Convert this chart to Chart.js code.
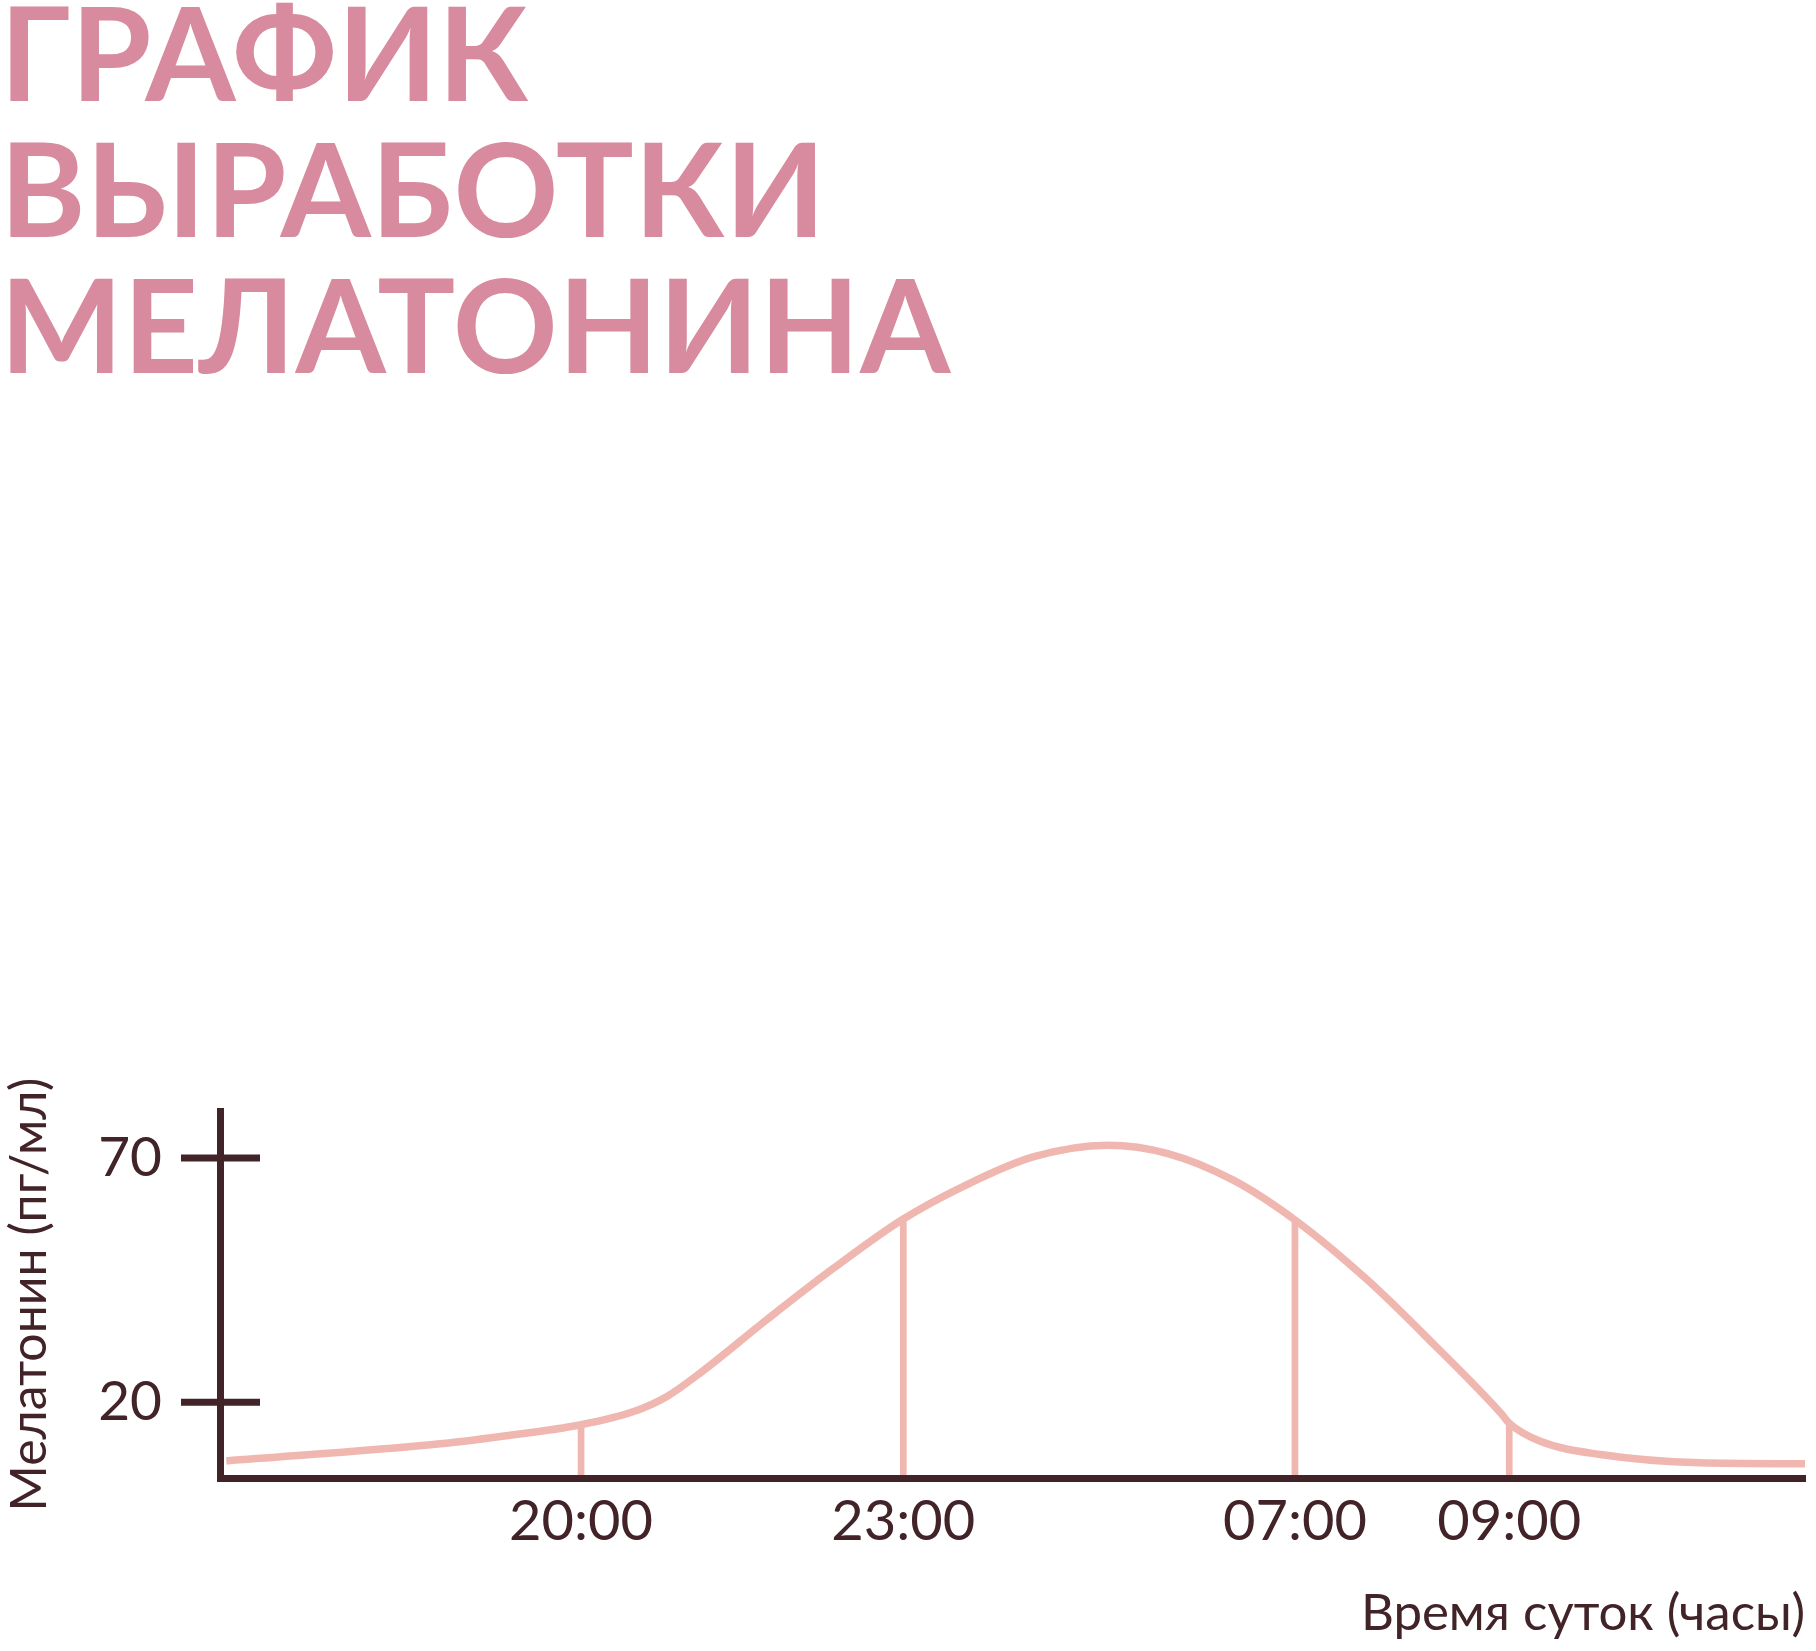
<!DOCTYPE html>
<html lang="ru">
<head>
  <meta charset="UTF-8">
  <title>График выработки мелатонина</title>
  <style>
    html, body {
      margin: 0;
      padding: 0;
      background: #fff;
    }
    body {
      width: 1816px;
      height: 1651px;
      position: relative;
      overflow: hidden;
      font-family: Lato, sans-serif;
    }
    h1 {
      position: absolute;
      left: 0;
      top: -17px;
      margin: 0;
      font-family: Lato, sans-serif;
      font-weight: 700;
      font-size: 130px;
      line-height: 136px;
      letter-spacing: 0.5px;
      color: #D88A9E;
    }
    .chart-box {
      position: absolute;
      left: 0;
      top: 1050px;
      width: 1816px;
      height: 601px;
    }
  </style>
  <script src="https://cdn.jsdelivr.net/npm/chart.js"></script>
</head>
<body>
  <h1>ГРАФИК<br>ВЫРАБОТКИ<br>МЕЛАТОНИНА</h1>

  <div class="chart-box"><canvas id="chart"></canvas></div>

  <script>
    // x = position along the time axis (0 = left end, 100 = right end), not to scale in hours
    const curveX = [0.4, 13.9, 17.7, 22.78, 26.1, 28.2, 30.3, 34.5, 38.7, 43.11, 47.1, 51.3, 56.0, 59.8, 63.9, 67.82, 72.4, 76.5, 80.8, 81.34, 83.3, 87.1, 93.4, 100];
    const curveY = [8.0, 11.5, 13.0, 15.4, 18.1, 21.2, 26.0, 36.9, 47.4, 57.5, 64.5, 70.2, 72.6, 70.9, 65.5, 57.3, 45.0, 32.1, 17.8, 15.7, 12.0, 9.3, 7.6, 7.4];

    const timeTicks = [22.78, 43.11, 67.82, 81.34];
    const timeLabels = ['20:00', '23:00', '07:00', '09:00'];
    const dropValues = [15.4, 57.5, 57.3, 15.7];

    const levelTicks = [20, 70];
    const yMin = 4.5;
    const yMax = 79.6;

    const ink = '#412328';
    const pink = '#F0B7B1';

    Chart.defaults.font.family = 'Lato, sans-serif';
    Chart.defaults.color = ink;

    // short cross marks on the y axis at 20 and 70
    const crossTicks = {
      id: 'crossTicks',
      afterDraw(chart) {
        const y = chart.scales.y;
        const x0 = chart.chartArea.left;
        const ctx = chart.ctx;
        ctx.save();
        ctx.strokeStyle = ink;
        ctx.lineWidth = 7;
        y.ticks.forEach((t, i) => {
          const py = y.getPixelForTick(i);
          ctx.beginPath();
          ctx.moveTo(x0 - 39, py);
          ctx.lineTo(x0 + 40, py);
          ctx.stroke();
        });
        ctx.restore();
      }
    };

    new Chart(document.getElementById('chart'), {
      type: 'line',
      data: {
        datasets: [
          {
            label: 'Мелатонин',
            data: curveX.map((x, i) => ({ x: x, y: curveY[i] })),
            borderColor: pink,
            borderWidth: 7.5,
            pointRadius: 0,
            cubicInterpolationMode: 'monotone',
            fill: false
          },
          {
            type: 'bar',
            label: 'drops',
            data: timeTicks.map((x, i) => ({ x: x, y: dropValues[i] })),
            backgroundColor: pink,
            barThickness: 6,
            base: yMin,
            grouped: false
          }
        ]
      },
      options: {
        responsive: true,
        maintainAspectRatio: false,
        animation: false,
        layout: { padding: { top: 61, right: 11, left: 0, bottom: 0 } },
        plugins: {
          legend: { display: false },
          tooltip: { enabled: false }
        },
        scales: {
          x: {
            type: 'linear',
            min: 0,
            max: 100,
            offset: false,
            grid: { display: false, drawTicks: false },
            border: { display: true, color: ink, width: 7, z: 1 },
            afterBuildTicks: s => { s.ticks = timeTicks.map(v => ({ value: v })); },
            afterFit: s => { s.height = 173; s.paddingLeft = 0; s.paddingRight = 0; },
            ticks: {
              autoSkip: false,
              maxRotation: 0,
              padding: 10,
              color: ink,
              font: { size: 56 },
              callback: v => timeLabels[timeTicks.indexOf(v)]
            },
            title: {
              display: true,
              text: 'Время суток (часы)',
              align: 'end',
              color: ink,
              font: { size: 51 },
              padding: { top: 0, bottom: 7 }
            }
          },
          y: {
            min: yMin,
            max: yMax,
            grid: { display: false, drawTicks: false },
            border: { display: true, color: ink, width: 7, z: 1 },
            afterBuildTicks: s => { s.ticks = levelTicks.map(v => ({ value: v })); },
            afterFit: s => { s.width = 220; s.paddingTop = 0; s.paddingBottom = 0; },
            ticks: {
              padding: 58,
              color: ink,
              font: { size: 55 }
            },
            title: {
              display: true,
              text: 'Мелатонин (пг/мл)',
              color: ink,
              font: { size: 50 },
              padding: { top: 0, bottom: 0 }
            }
          }
        }
      },
      plugins: [crossTicks]
    });
  </script>
</body>
</html>
